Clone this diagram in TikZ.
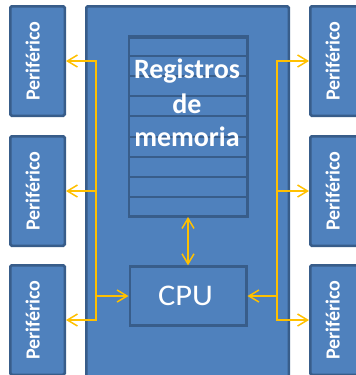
\documentclass[tikz,border=0pt]{standalone}
\usepackage{fontspec}
\setmainfont{Carlito}
\usetikzlibrary{arrows.meta}
\definecolor{boxfill}{HTML}{4F81BD}
\definecolor{boxline}{HTML}{385D8A}
\definecolor{busline}{HTML}{FFC000}
\begin{document}
\begin{tikzpicture}[x=1pt,y=-1pt,
  unit/.style={draw=boxline, fill=boxfill, line width=2.5pt, rounded corners=1.5pt, inner sep=0pt},
  periph/.style={unit, minimum width=54.5pt, minimum height=109.5pt},
  cell/.style={draw=boxline, fill=boxfill, line width=2pt, minimum width=119pt, minimum height=20.1pt, inner sep=0pt},
  reglabel/.style={text=white, font=\bfseries\fontsize{28}{34}\selectfont, inner sep=0pt, anchor=base},
  plabel/.style={text=white, font=\bfseries\fontsize{20}{24}\selectfont, inner sep=0pt, anchor=base, rotate=90},
  bus/.style={draw=busline, line width=1.5pt},
  barb/.tip={Straight Barb[length=10pt,width=12pt]},
  head/.style={-barb},
  headboth/.style={barb-barb}]
\useasboundingbox (0,0) rectangle (356,375);
\clip (0,0) rectangle (356,375);

% main board
\node[unit, minimum width=202.5pt, minimum height=390pt] (main) at (187.5,201.25) {};

% peripherals
\foreach \n/\y in {1/61,2/191,3/320}{
  \node[periph] (pl\n) at (37.5,\y) {};
  \node[plabel] (tl\n) at (39.5,\y) {Periférico};
  \node[periph] (pr\n) at (337.5,\y) {};
  \node[plabel] (tr\n) at (339.5,\y) {Periférico};
}

% register file
\foreach \i in {0,...,8}{
  \node[cell] (cell\i) at (188,{46.05+20.1*\i}) {};
}
\node[draw=boxline, line width=2.5pt, inner sep=0pt, minimum width=118.5pt, minimum height=178.5pt] (reg) at (188,126.5) {};
\node[reglabel] (rt1) at (187,78) {Registros};
\node[reglabel] (rt2) at (187,113) {de};
\node[reglabel] (rt3) at (187,146) {memoria};

% processor
\node[unit, rounded corners=0pt, minimum width=116.5pt, minimum height=59pt] (cpu) at (188,296) {};
\node[text=white, font=\fontsize{30}{36}\selectfont, inner sep=0pt, anchor=base] (cputext) at (185.5,305.5) {\scalebox{1.08}[1]{CPU}};

% buses
\coordinate (lb) at (96,61);
\coordinate (rb) at (277,61);
\draw[bus, headboth] (pl1.east) -- (lb) -- (lb |- pl3.east) -- (pl3.east);
\draw[bus, head] (lb |- pl2.east) -- (pl2.east);
\draw[bus, head] (lb |- cpu.west) -- (cpu.west);
\draw[bus, headboth] (pr1.west) -- (rb) -- (rb |- pr3.west) -- (pr3.west);
\draw[bus, head] (rb |- pr2.west) -- (pr2.west);
\draw[bus, head] (rb |- cpu.east) -- (cpu.east);
\draw[bus, headboth] (reg.south) -- (cpu.north);
\end{tikzpicture}
\end{document}
